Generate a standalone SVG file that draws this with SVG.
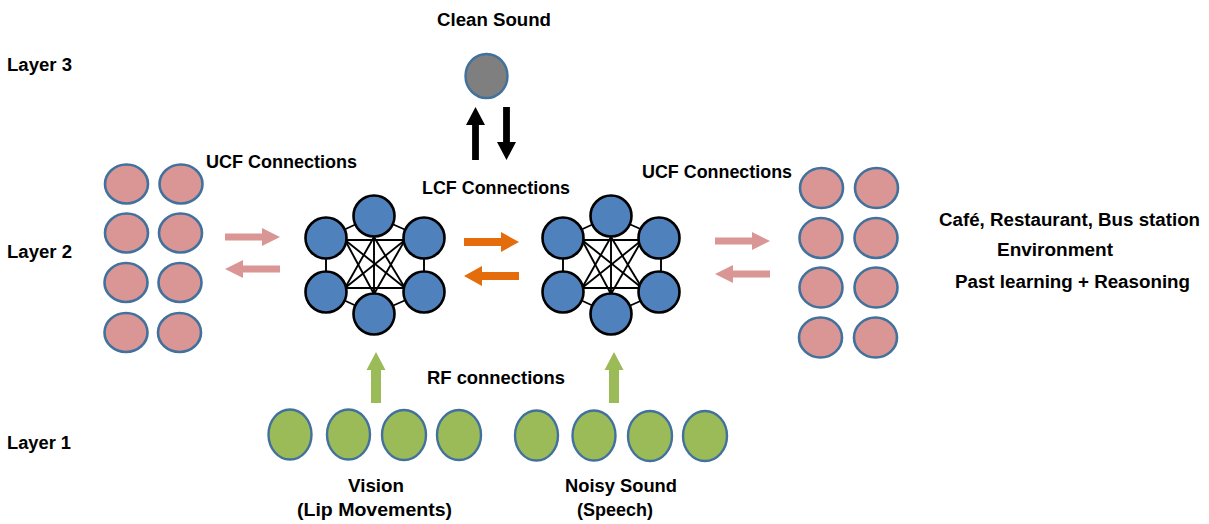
<svg xmlns="http://www.w3.org/2000/svg" xmlns:xlink="http://www.w3.org/1999/xlink" width="1209" height="524" viewBox="0 0 1209 524">
<style>
text{font-family:"Liberation Sans",Arial,sans-serif;font-weight:bold;font-size:18px;fill:#000}
.pink{fill:#D99694;stroke:#41719C;stroke-width:2.6}
.blue{fill:#4F81BD;stroke:#000;stroke-width:2.6}
.green{fill:#9BBB59;stroke:#41719C;stroke-width:2.4}
.gray{fill:#7F7F7F;stroke:#41719C;stroke-width:2.4}
.edge{stroke:#000;stroke-width:1.9;fill:none}
.apink{fill:#D99694}
.aorange{fill:#E46C0A}
.agreen{fill:#9BBB59}
.ablack{fill:#000}
</style>
<defs>
<path id="arrPink" d="M0,-3.6 H37 V-9 L55,0 L37,9 V3.6 H0 Z"/>
<path id="arrOrange" d="M0,-4 H37 V-10 L55,0 L37,10 V4 H0 Z"/>
<path id="arrGreen" d="M0,-5 H33 V-9.5 L51,0 L33,9.5 V5 H0 Z"/>
<path id="arrBlack" d="M0,-3.4 H35 V-9.5 L53,0 L35,9.5 V3.4 H0 Z"/>
</defs>
<rect width="1209" height="524" fill="#fff"/>

<g id="connectors">
  <g id="net-left-edges">
    <line class="edge" x1="374" y1="216" x2="326" y2="238"/>
    <line class="edge" x1="374" y1="216" x2="424" y2="238"/>
    <line class="edge" x1="326" y1="238" x2="326" y2="292"/>
    <line class="edge" x1="424" y1="238" x2="424" y2="292"/>
    <line class="edge" x1="326" y1="292" x2="374" y2="314"/>
    <line class="edge" x1="424" y1="292" x2="374" y2="314"/>
    <line class="edge" x1="345" y1="240" x2="405" y2="240"/>
    <line class="edge" x1="345" y1="288" x2="405" y2="288"/>
    <line class="edge" x1="374" y1="237" x2="374" y2="294"/>
    <line class="edge" x1="374" y1="237" x2="345" y2="288"/>
    <line class="edge" x1="374" y1="237" x2="405" y2="288"/>
    <line class="edge" x1="374" y1="294" x2="345" y2="240"/>
    <line class="edge" x1="374" y1="294" x2="405" y2="240"/>
    <line class="edge" x1="345" y1="240" x2="405" y2="288"/>
    <line class="edge" x1="405" y1="240" x2="345" y2="288"/>
  </g>
  <g id="net-right-edges" transform="translate(237,0)">
    <line class="edge" x1="374" y1="216" x2="326" y2="238"/>
    <line class="edge" x1="374" y1="216" x2="424" y2="238"/>
    <line class="edge" x1="326" y1="238" x2="326" y2="292"/>
    <line class="edge" x1="424" y1="238" x2="424" y2="292"/>
    <line class="edge" x1="326" y1="292" x2="374" y2="314"/>
    <line class="edge" x1="424" y1="292" x2="374" y2="314"/>
    <line class="edge" x1="345" y1="240" x2="405" y2="240"/>
    <line class="edge" x1="345" y1="288" x2="405" y2="288"/>
    <line class="edge" x1="374" y1="237" x2="374" y2="294"/>
    <line class="edge" x1="374" y1="237" x2="345" y2="288"/>
    <line class="edge" x1="374" y1="237" x2="405" y2="288"/>
    <line class="edge" x1="374" y1="294" x2="345" y2="240"/>
    <line class="edge" x1="374" y1="294" x2="405" y2="240"/>
    <line class="edge" x1="345" y1="240" x2="405" y2="288"/>
    <line class="edge" x1="405" y1="240" x2="345" y2="288"/>
  </g>
  <use xlink:href="#arrPink" class="apink" transform="translate(225,237)"/>
  <use xlink:href="#arrPink" class="apink" transform="translate(280,269) rotate(180)"/>
  <use xlink:href="#arrPink" class="apink" transform="translate(715,241)"/>
  <use xlink:href="#arrPink" class="apink" transform="translate(770,274) rotate(180)"/>
  <use xlink:href="#arrOrange" class="aorange" transform="translate(464,242)"/>
  <use xlink:href="#arrOrange" class="aorange" transform="translate(519,276) rotate(180)"/>
  <use xlink:href="#arrGreen" class="agreen" transform="translate(376,403) rotate(-90)"/>
  <use xlink:href="#arrGreen" class="agreen" transform="translate(614,403) rotate(-90)"/>
  <use xlink:href="#arrBlack" class="ablack" transform="translate(475.5,160) rotate(-90)"/>
  <use xlink:href="#arrBlack" class="ablack" transform="translate(506.5,107) rotate(90)"/>
</g>

<g id="clean-sound-node"><ellipse class="gray" cx="486.5" cy="76" rx="21" ry="22"/></g>

<g id="left-context">
  <g id="lc1"><ellipse class="pink" cx="126.5" cy="184" rx="21.5" ry="19.5"/></g>
  <g id="lc2"><ellipse class="pink" cx="181" cy="184" rx="21.5" ry="19.5"/></g>
  <g id="lc3"><ellipse class="pink" cx="126.5" cy="233" rx="21.5" ry="19.5"/></g>
  <g id="lc4"><ellipse class="pink" cx="180.5" cy="233" rx="21.5" ry="19.5"/></g>
  <g id="lc5"><ellipse class="pink" cx="126" cy="282.5" rx="21.5" ry="19.5"/></g>
  <g id="lc6"><ellipse class="pink" cx="180" cy="282.5" rx="21.5" ry="19.5"/></g>
  <g id="lc7"><ellipse class="pink" cx="126" cy="332.5" rx="21.5" ry="19.5"/></g>
  <g id="lc8"><ellipse class="pink" cx="179.5" cy="332.5" rx="21.5" ry="19.5"/></g>
</g>

<g id="right-context">
  <g id="rc1"><ellipse class="pink" cx="821.5" cy="188" rx="21.5" ry="20"/></g>
  <g id="rc2"><ellipse class="pink" cx="876.5" cy="188" rx="21.5" ry="20"/></g>
  <g id="rc3"><ellipse class="pink" cx="821" cy="238" rx="21.5" ry="20"/></g>
  <g id="rc4"><ellipse class="pink" cx="876" cy="238" rx="21.5" ry="20"/></g>
  <g id="rc5"><ellipse class="pink" cx="821" cy="287.5" rx="21.5" ry="20"/></g>
  <g id="rc6"><ellipse class="pink" cx="876" cy="287.5" rx="21.5" ry="20"/></g>
  <g id="rc7"><ellipse class="pink" cx="820.5" cy="337.5" rx="21.5" ry="20"/></g>
  <g id="rc8"><ellipse class="pink" cx="875.5" cy="337.5" rx="21.5" ry="20"/></g>
</g>

<g id="net-left">
  <g id="nl-top"><circle class="blue" cx="374" cy="216" r="20.5"/></g>
  <g id="nl-ul"><circle class="blue" cx="326" cy="238" r="20.5"/></g>
  <g id="nl-ur"><circle class="blue" cx="424" cy="238" r="20.5"/></g>
  <g id="nl-ll"><circle class="blue" cx="326" cy="292" r="20.5"/></g>
  <g id="nl-lr"><circle class="blue" cx="424" cy="292" r="20.5"/></g>
  <g id="nl-bot"><circle class="blue" cx="374" cy="314" r="20.5"/></g>
</g>

<g id="net-right">
  <g id="nr-top"><circle class="blue" cx="611" cy="216" r="20.5"/></g>
  <g id="nr-ul"><circle class="blue" cx="563" cy="238" r="20.5"/></g>
  <g id="nr-ur"><circle class="blue" cx="659" cy="238" r="20.5"/></g>
  <g id="nr-ll"><circle class="blue" cx="563" cy="292" r="20.5"/></g>
  <g id="nr-lr"><circle class="blue" cx="659" cy="292" r="20.5"/></g>
  <g id="nr-bot"><circle class="blue" cx="611" cy="314" r="20.5"/></g>
</g>

<g id="vision-inputs">
  <g id="v1"><ellipse class="green" cx="290" cy="434.5" rx="21.5" ry="25"/></g>
  <g id="v2"><ellipse class="green" cx="348.5" cy="434.5" rx="21.5" ry="25"/></g>
  <g id="v3"><ellipse class="green" cx="404" cy="435" rx="22" ry="25"/></g>
  <g id="v4"><ellipse class="green" cx="459" cy="435" rx="22" ry="25"/></g>
</g>
<g id="sound-inputs">
  <g id="s1"><ellipse class="green" cx="536.5" cy="435.5" rx="21.5" ry="25"/></g>
  <g id="s2"><ellipse class="green" cx="594" cy="435.5" rx="21.5" ry="25"/></g>
  <g id="s3"><ellipse class="green" cx="650" cy="436" rx="22" ry="25"/></g>
  <g id="s4"><ellipse class="green" cx="705" cy="436" rx="22" ry="25"/></g>
</g>

<g id="labels">
  <text x="437" y="26" textLength="114" lengthAdjust="spacingAndGlyphs">Clean Sound</text>
  <text x="7" y="71" textLength="65" lengthAdjust="spacingAndGlyphs">Layer 3</text>
  <text x="7" y="258" textLength="65" lengthAdjust="spacingAndGlyphs">Layer 2</text>
  <text x="7" y="449" textLength="64" lengthAdjust="spacingAndGlyphs">Layer 1</text>
  <text x="206" y="168" textLength="151" lengthAdjust="spacingAndGlyphs">UCF Connections</text>
  <text x="422" y="194" textLength="148" lengthAdjust="spacingAndGlyphs">LCF Connections</text>
  <text x="642" y="178" textLength="150" lengthAdjust="spacingAndGlyphs">UCF Connections</text>
  <text x="939" y="226" textLength="261" lengthAdjust="spacingAndGlyphs">Café, Restaurant, Bus station</text>
  <text x="997" y="256" textLength="116" lengthAdjust="spacingAndGlyphs">Environment</text>
  <text x="955" y="288" textLength="235" lengthAdjust="spacingAndGlyphs">Past learning + Reasoning</text>
  <text x="427" y="384" textLength="138" lengthAdjust="spacingAndGlyphs">RF connections</text>
  <text x="348" y="492" textLength="56" lengthAdjust="spacingAndGlyphs">Vision</text>
  <text x="297" y="516" textLength="155" lengthAdjust="spacingAndGlyphs">(Lip Movements)</text>
  <text x="565" y="492" textLength="112" lengthAdjust="spacingAndGlyphs">Noisy Sound</text>
  <text x="577" y="516" textLength="76" lengthAdjust="spacingAndGlyphs">(Speech)</text>
</g>
</svg>
